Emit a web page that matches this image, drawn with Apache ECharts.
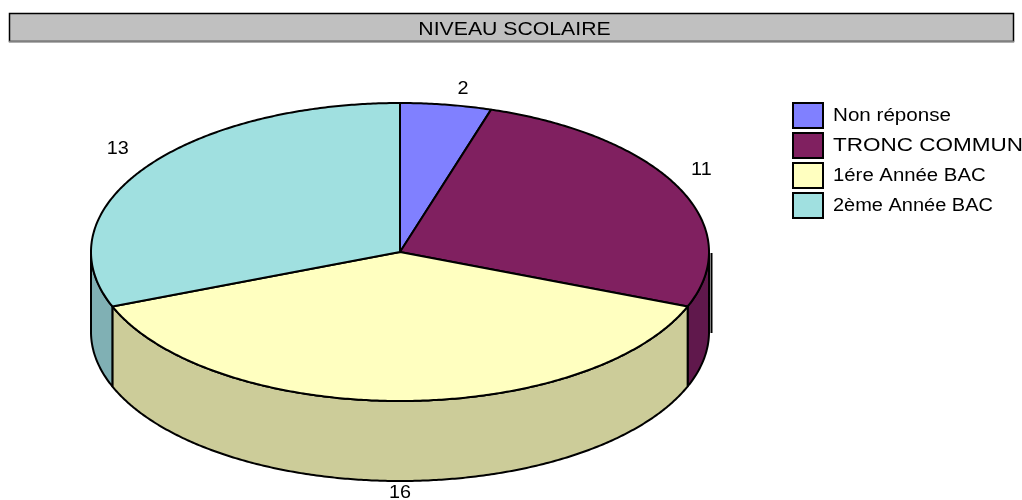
<!DOCTYPE html>
<html>
<head>
<meta charset="utf-8">
<style>html,body{margin:0;padding:0;background:#fff}#c{width:1022px;height:500px}</style>
<script src="https://cdn.jsdelivr.net/npm/echarts@6/dist/echarts.min.js"></script>
</head>
<body>
<div id="c"></div>
<script>
const chartTitle = 'NIVEAU SCOLAIRE';
const categories = ['Non réponse', 'TRONC COMMUN', '1ére Année BAC', '2ème Année BAC'];
const values = [2, 11, 16, 13];
const topColors = ['#8080FF', '#802060', '#FFFFC0', '#A0E0E0'];
const sideColors = ['#6060C0', '#60184C', '#CCCC99', '#80B0B4'];
const labelShift = [[17, -16], [23, -17], [0, 12], [-27, -19]];
const legendStretch = [1.145, 1.25, 1.13, 1.11];

const CX = 400, CY = 252, RX = 309, RY = 149, DEPTH = 80;
const total = values.reduce((a, b) => a + b, 0);
const pt = (deg, dy) => {
  const t = deg * Math.PI / 180;
  return [CX + RX * Math.sin(t), CY - RY * Math.cos(t) + (dy || 0)];
};
const arc = (a, b, dy) => {
  const out = [];
  const n = Math.max(2, Math.ceil(Math.abs(b - a) * 2));
  for (let i = 0; i <= n; i++) out.push(pt(a + (b - a) * i / n, dy));
  return out;
};
const line = { stroke: '#000', lineWidth: 2, lineJoin: 'round' };
const textFont = '18px "Liberation Sans"';

function sliceSeries(name, i) {
  const before = values.slice(0, i).reduce((a, b) => a + b, 0);
  return {
    type: 'custom',
    name: name,
    coordinateSystem: 'none',
    silent: true,
    animation: false,
    clip: false,
    itemStyle: { color: topColors[i], borderColor: '#000', borderWidth: 2 },
    data: [[values[i]]],
    renderItem: function (params, api) {
      const a0 = before / total * 360;
      const a1 = (before + api.value(0)) / total * 360;
      const children = [];
      const s0 = Math.max(a0, 90), s1 = Math.min(a1, 270);
      if (s1 > s0) {
        children.push({
          type: 'polygon',
          z2: 1,
          shape: { points: arc(s0, s1, 0).concat(arc(s1, s0, DEPTH)) },
          style: Object.assign({ fill: sideColors[i] }, line)
        });
      }
      children.push({
        type: 'polygon',
        z2: 2,
        shape: { points: [[CX, CY]].concat(arc(a0, a1, 0)) },
        style: Object.assign({ fill: topColors[i] }, line)
      });
      const mid = (a0 + a1) / 2;
      const anchor = pt(mid, mid > 90 && mid < 270 ? DEPTH : 0);
      children.push({
        type: 'text',
        z2: 3,
        x: anchor[0] + labelShift[i][0],
        y: anchor[1] + labelShift[i][1],
        scaleX: 1.1,
        style: {
          text: String(api.value(0)),
          x: 0, y: 0,
          fill: '#000',
          font: textFont,
          align: 'center',
          verticalAlign: 'middle'
        }
      });
      return { type: 'group', children: children };
    }
  };
}

const legendItems = [];
categories.forEach((name, i) => {
  legendItems.push({
    type: 'rect', z: 4, silent: true,
    shape: { x: 793, y: 103 + i * 30, width: 30, height: 25 },
    style: { fill: topColors[i], stroke: '#000', lineWidth: 2 }
  });
  legendItems.push({
    type: 'text', z: 4, silent: true,
    x: 833, y: 116 + i * 30, scaleX: legendStretch[i],
    style: { text: name, x: 0, y: 0, fill: '#000', font: textFont, align: 'left', verticalAlign: 'middle' }
  });
});

const chart = echarts.init(document.getElementById('c'), null, { renderer: 'canvas', width: 1022, height: 500 });
chart.setOption({
  animation: false,
  backgroundColor: '#fff',
  graphic: [
    { type: 'rect', z: 1, silent: true, shape: { x: 9.5, y: 13.5, width: 1004, height: 28 },
      style: { fill: '#C0C0C0', stroke: '#000', lineWidth: 1.5 } },
    { type: 'line', z: 1, silent: true, shape: { x1: 9, y1: 41.5, x2: 1014, y2: 41.5 },
      style: { stroke: '#808080', lineWidth: 1.5 } },
    { type: 'text', z: 2, silent: true, x: 514.5, y: 30, scaleX: 1.18,
      style: { text: chartTitle, x: 0, y: 0, fill: '#000', font: textFont, align: 'center', verticalAlign: 'middle' } },
    { type: 'line', z: 1, silent: true, shape: { x1: 711.5, y1: CY + 1, x2: 711.5, y2: CY + 81 },
      style: { stroke: '#000', lineWidth: 2 } }
  ].concat(legendItems),
  series: categories.map(sliceSeries)
});
</script>
</body>
</html>
